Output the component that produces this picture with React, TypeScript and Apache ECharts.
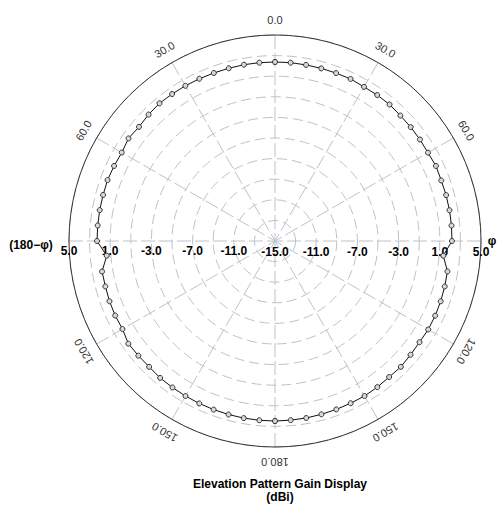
import React, { useEffect, useRef } from 'react';
import * as echarts from 'echarts';

// Elevation angles (degrees) sampled every 5°, for each half of the pattern
const ANGLES = [0, 5, 10, 15, 20, 25, 30, 35, 40, 45, 50, 55, 60, 65, 70, 75, 80, 85, 90, 95, 100, 105, 110, 115, 120, 125, 130, 135, 140, 145, 150, 155, 160, 165, 170, 175, 180];
// Gain (dBi) on the right half (φ)
const RIGHT_GAIN = [2.38, 2.38, 2.36, 2.35, 2.35, 2.36, 2.28, 2.3, 2.3, 2.22, 2.2, 2.18, 2.15, 2.24, 2.18, 2.2, 2.2, 2.2, 2.18, 1.4, 2.0, 2.06, 2.12, 2.16, 2.18, 2.13, 2.18, 2.28, 2.24, 2.32, 2.38, 2.38, 2.4, 2.42, 2.45, 2.46, 2.48];
// Gain (dBi) on the left half (180-φ)
const LEFT_GAIN = [2.38, 2.38, 2.38, 2.36, 2.36, 2.38, 2.4, 2.42, 2.45, 2.36, 2.24, 2.36, 2.18, 2.24, 2.3, 2.28, 2.28, 2.28, 2.28, 1.4, 2.05, 2.05, 2.1, 2.12, 2.1, 2.38, 2.32, 2.28, 2.35, 2.36, 2.38, 2.4, 2.42, 2.44, 2.46, 2.47, 2.48];

const RADIAL_MIN = -15;
const RADIAL_MAX = 5;
const RING_STEP = 2;
const LABEL_STEP = 4;

const ANGLE_TICKS = [0, 30, 60, 90, 120, 150, 180, 210, 240, 270, 300, 330];
const ANGLE_LABELS = ['0.0', '30.0', '60.0', 'φ', '120.0', '150.0', '180.0', '150.0', '120.0', '(180−φ)', '60.0', '30.0'];

const TITLE = 'Elevation Pattern Gain Display';
const UNIT = '(dBi)';

const FONT = '"Liberation Sans", Arial, sans-serif';
const CX = 275;
const CY = 241;
const R = 206;

export default function App() {
  const ref = useRef<HTMLDivElement>(null);

  useEffect(() => {
    if (!ref.current) return;
    const chart = echarts.init(ref.current, undefined, { renderer: 'svg' });
    const span = RADIAL_MAX - RADIAL_MIN;

    const data: [number, number][] = [];
    ANGLES.forEach((a, i) => data.push([RIGHT_GAIN[i] - RADIAL_MIN, a]));
    for (let i = ANGLES.length - 1; i >= 0; i--) {
      data.push([LEFT_GAIN[i] - RADIAL_MIN, 360 - ANGLES[i]]);
    }

    const labelFmt = (v: number) =>
      Math.abs(v % LABEL_STEP) < 1e-9 ? (v + RADIAL_MIN).toFixed(1) : '';

    const radialLabelAxis = (idx: number, showMin: boolean, margin: number) => ({
      polarIndex: idx,
      type: 'value',
      min: 0,
      max: span,
      interval: RING_STEP,
      axisLine: { show: false },
      axisTick: { show: false },
      splitLine: { show: false },
      axisLabel: {
        show: true,
        showMinLabel: showMin,
        formatter: labelFmt,
        fontFamily: FONT,
        fontWeight: 'bold',
        fontSize: 12,
        color: '#000',
        margin,
      },
    });

    const graphics: any[] = [];
    ANGLE_TICKS.forEach((t, i) => {
      const label = ANGLE_LABELS[i];
      if (t === 90) {
        graphics.push({
          type: 'text', x: CX + 217, y: CY, z: 10,
          style: { text: label, fontFamily: FONT, fontWeight: 'bold', fontSize: 12, fill: '#000', align: 'center', verticalAlign: 'middle' },
        });
        return;
      }
      if (t === 270) {
        graphics.push({
          type: 'text', x: CX - 244, y: CY + 4, z: 10,
          style: { text: label, fontFamily: FONT, fontWeight: 'bold', fontSize: 12, fill: '#000', align: 'center', verticalAlign: 'middle' },
        });
        return;
      }
      const th = (t * Math.PI) / 180;
      const lr = R + 15;
      graphics.push({
        type: 'text',
        x: CX + lr * Math.sin(th),
        y: CY - lr * Math.cos(th),
        rotation: -th,
        z: 10,
        style: { text: label, fontFamily: FONT, fontSize: 11, fill: '#333', align: 'center', verticalAlign: 'middle' },
      });
    });

    chart.setOption({
      animation: false,
      backgroundColor: '#fff',
      title: {
        text: TITLE + '\n' + UNIT,
        left: CX,
        top: 472,
        textAlign: 'center',
        textStyle: { fontFamily: FONT, fontWeight: 'bold', fontSize: 12, color: '#000', lineHeight: 13 },
      },
      polar: [
        { center: [CX, CY], radius: R },
        { center: [CX, CY], radius: R },
        { center: [CX, CY], radius: R },
      ],
      angleAxis: [
        {
          polarIndex: 0,
          type: 'value',
          min: 0,
          max: 360,
          interval: 30,
          startAngle: 90,
          clockwise: true,
          axisLine: { show: true, lineStyle: { color: '#333', width: 1 } },
          axisTick: { show: false },
          axisLabel: { show: false },
          splitLine: { show: true, lineStyle: { color: '#bcc2cc', width: 1, type: [14, 4] } },
        },
        { polarIndex: 1, type: 'value', min: 0, max: 360, startAngle: 0, show: false },
        { polarIndex: 2, type: 'value', min: 0, max: 360, startAngle: 180, show: false },
      ],
      radiusAxis: [
        {
          polarIndex: 0,
          type: 'value',
          min: 0,
          max: span,
          interval: RING_STEP,
          axisLine: { show: false },
          axisTick: { show: false },
          axisLabel: { show: false },
          splitLine: { show: true, lineStyle: { color: '#bcc2cc', width: 1, type: [10, 5] } },
        },
        radialLabelAxis(1, true, -17),
        radialLabelAxis(2, false, 4),
      ],
      series: [
        {
          type: 'line',
          coordinateSystem: 'polar',
          polarIndex: 0,
          data,
          symbol: 'circle',
          symbolSize: 5,
          lineStyle: { color: '#111', width: 1 },
          itemStyle: { color: '#d8d8d8', borderColor: '#333', borderWidth: 1 },
          z: 5,
        },
      ],
      graphic: graphics,
    });

    return () => chart.dispose();
  }, []);

  return (
    <div
      ref={ref}
      style={{ position: 'fixed', left: 0, top: 0, width: 497, height: 506, background: '#fff' }}
    />
  );
}
